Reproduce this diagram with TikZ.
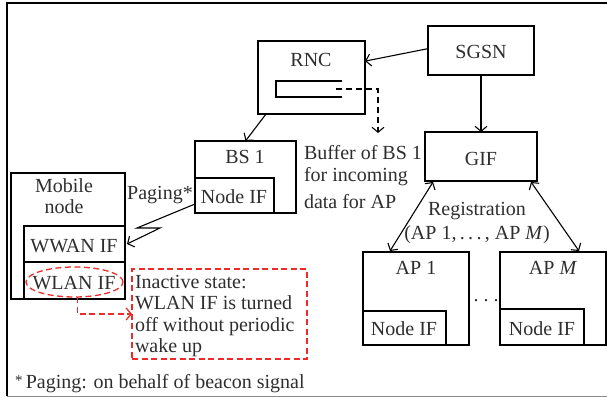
\documentclass[tikz,border=0pt]{standalone}
\usepackage{fontspec}
\setmainfont{Liberation Serif}
\usetikzlibrary{arrows.meta,calc,shapes.geometric}
\definecolor{inkgray}{HTML}{2E2E2E}
\definecolor{notered}{HTML}{EE2A2A}
\begin{document}
\begin{tikzpicture}[x=1pt,y=-1pt,
  every node/.style={inner sep=0pt, outer sep=0pt},
  box/.style={draw, line width=1.3pt, minimum width=#1},
  box/.default=100pt,
  lbl/.style={anchor=base, text=inkgray, font=\fontsize{20}{22}\selectfont},
  lbll/.style={anchor=base west, text=inkgray, font=\fontsize{20}{22}\selectfont},
  arr/.style={-{Straight Barb[length=5pt,width=12pt]}, line width=1.1pt},
  darr/.style={{Straight Barb[length=5pt,width=12pt]}-{Straight Barb[length=5pt,width=12pt]}, line width=1.1pt},
  reddash/.style={draw=notered, line width=1.3pt, dash pattern=on 6pt off 3.5pt},
]
\useasboundingbox (0,0) rectangle (607,398);

% outer frame
\draw[line width=1.3pt] (7,396) -- (7,3) -- (608,3);
\draw[line width=1.4pt, black!45] (7,396.5) -- (608,396.5);

% core network boxes
\node[box, minimum width=107pt, minimum height=73pt] (rnc) at (311.5,77.5) {};
\node[box, minimum width=106pt, minimum height=49pt] (sgsn) at (481,50.5) {};
\node[box, minimum width=112pt, minimum height=49pt] (gif) at (481,156.5) {};
\node[lbl] (rnclbl) at (311,67) {RNC};
\node[lbl] (sgsnlbl) at (481,59) {SGSN};
\node[lbl] (giflbl) at (481,165) {GIF};

% buffer inside the RNC
\draw[line width=1.3pt] (342,81) -- (276,81) -- (276,97) -- (342,97);
\coordinate (bufout) at (336,89);
\coordinate (bufend) at (378,133);
\draw[arr, dash pattern=on 6pt off 4pt] (bufout) -| (bufend);
\node[lbll] (buf1) at (304,160) {Buffer of BS 1};
\node[lbll] (buf2) at (304,182) {for incoming};
\node[lbll] (buf3) at (304,208) {data for AP};

% base station
\node[box, minimum width=101pt, minimum height=72pt] (bs1) at (245.5,177) {};
\node[box, minimum width=79pt, minimum height=35pt] (bsif) at (234.5,195.5) {};
\node[lbl] (bs1lbl) at (245,164) {BS 1};
\node[lbl] (bsiflbl) at (234,204) {Node IF};

% mobile node
\node[box, minimum width=114pt, minimum height=126pt] (mobile) at (68,236) {};
\node[box, minimum width=101pt, minimum height=36pt] (wwan) at (74.5,244) {};
\node[box, minimum width=101pt, minimum height=37pt] (wlan) at (74.5,280.5) {};
\node[lbl] (mob1) at (64,193) {Mobile};
\node[lbl] (mob2) at (64,213) {node};
\node[lbl] (wwanlbl) at (74,252) {WWAN IF};
\node[lbl] (wlanlbl) at (74,289) {WLAN IF};
\node[lbl] (paging) at (160,199) {Paging*};

% access points
\node[box, minimum width=106pt, minimum height=93pt] (ap1) at (416,298.5) {};
\node[box, minimum width=83pt, minimum height=34pt] (ap1if) at (404.5,328) {};
\node[box, minimum width=106pt, minimum height=93pt] (apm) at (553,298.5) {};
\node[box, minimum width=84pt, minimum height=36pt] (apmif) at (542,327) {};
\node[lbl] (ap1lbl) at (416,274) {AP 1};
\node[lbl] (apmlbl) at (553,274) {AP \textit{M}};
\node[lbl] (ap1iflbl) at (404,335) {Node IF};
\node[lbl] (apmiflbl) at (542,335) {Node IF};
\node[lbl] (apdots) at (486,301) {.\hspace{5pt}.\hspace{5pt}.};
\node[lbl] (reg1) at (477,215) {Registration};
\node[lbl] (reg2) at (477,239) {(AP 1,\,.\,.\,.\,, AP \textit{M})};

% connectors
\draw[arr] (sgsn.178) -- (rnc.17);
\draw[arr] ($(rnc.south west)+(8,0)$) -- (bs1.north);
\draw[arr] (sgsn.south) -- (gif.north);
\draw[darr] ($(gif.south west)+(8,1)$) -- ($(ap1.north west)+(27,-1)$);
\draw[darr] ($(gif.south east)+(-6,1)$) -- ($(apm.north east)+(-27,-1)$);

% paging link (wireless zigzag)
\draw[arr, line join=miter] ($(bsif.south west)+(0,-9)$) -- ++(-58,24) -- ++(23,0) -- ($(wwan.east)+(2,0)$);

% inactive WLAN interface note
\node[reddash, ellipse, minimum width=97pt, minimum height=30pt] (wlanring) at (74.5,282) {};
\node[reddash, minimum width=175pt, minimum height=90pt] (note) at (219.5,314) {};
\draw[reddash, -{Straight Barb[length=5pt,width=12pt]}] ($(wlanring.south)+(3,0)$) |- (note.west);
\node[lbll] (note1) at (135,288) {Inactive state:};
\node[lbll] (note2) at (135,309.5) {WLAN IF is turned};
\node[lbll] (note3) at (135,331) {off without periodic};
\node[lbll] (note4) at (135,352) {wake up};

% footnote
\node[lbll] (foot) at (15,388) {\raisebox{3pt}{\fontsize{15}{15}\selectfont*}\,Paging: on behalf of beacon signal};
\end{tikzpicture}
\end{document}
